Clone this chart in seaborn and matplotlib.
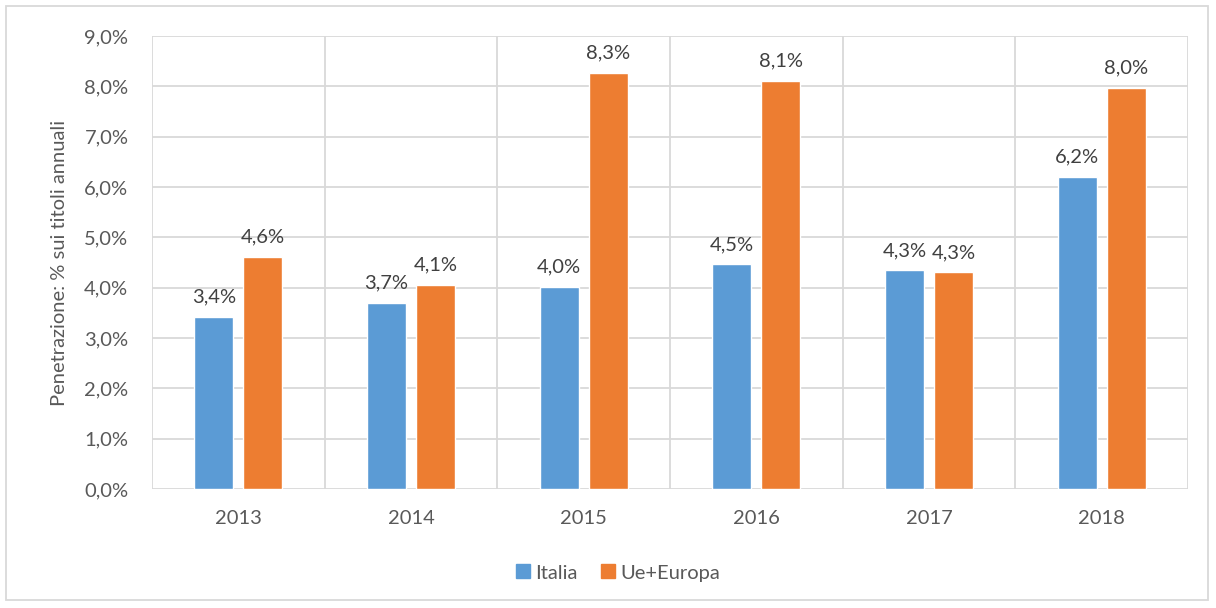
import matplotlib
matplotlib.use("Agg")
import matplotlib.pyplot as plt
import seaborn as sns
import pandas as pd
import numpy as np
from matplotlib.patches import Rectangle
from matplotlib.lines import Line2D

# dati
anni = ["2013", "2014", "2015", "2016", "2017", "2018"]
italia = [3.42, 3.70, 4.02, 4.47, 4.35, 6.20]
ue_europa = [4.61, 4.06, 8.27, 8.11, 4.31, 7.97]
etichette_italia = ["3,4%", "3,7%", "4,0%", "4,5%", "4,3%", "6,2%"]
etichette_ue = ["4,6%", "4,1%", "8,3%", "8,1%", "4,3%", "8,0%"]
serie = ["Italia", "Ue+Europa"]
colori = ["#5B9BD5", "#ED7D31"]

df = pd.DataFrame({
    "anno": anni * 2,
    "valore": italia + ue_europa,
    "serie": [serie[0]] * len(anni) + [serie[1]] * len(anni),
})

sns.set_theme(style="white")
plt.rcParams["font.family"] = ["Lato", "DejaVu Sans"]

GRID = "#D9D9D9"
TXT = "#595959"
FS = 14.5

fig = plt.figure(figsize=(12.16, 6.08), dpi=100)
ax = fig.add_axes([0.125, 0.1957, 0.852, 0.7451])

sns.barplot(data=df, x="anno", y="valore", hue="serie", palette=colori,
            width=0.567, gap=0.2, ax=ax, legend=False, saturation=1)

# etichette dati
for cont, labs in zip(ax.containers, [etichette_italia, etichette_ue]):
    for bar, lab in zip(cont, labs):
        ax.annotate(lab, (bar.get_x() + bar.get_width() / 2, bar.get_height()),
                    xytext=(0, 8), textcoords="offset points",
                    ha="center", va="bottom", fontsize=FS, color="#404040")

ax.set_ylim(0, 9)
ax.set_xlim(-0.5, len(anni) - 0.5)
ax.set_yticks(np.arange(0, 10, 1))
ax.set_yticklabels([f"{v:.1f}%".replace(".", ",") for v in np.arange(0, 10, 1)])
ax.set_xticks(range(len(anni)))
ax.set_xticks(np.arange(-0.5, len(anni), 1), minor=True)
ax.tick_params(axis="both", which="both", length=0, labelsize=FS, labelcolor=TXT)
ax.tick_params(axis="y", pad=17)
ax.tick_params(axis="x", pad=15)

ax.grid(axis="y", which="major", color=GRID, linewidth=1.3)
ax.grid(axis="x", which="minor", color=GRID, linewidth=1.3)
ax.grid(axis="x", which="major", visible=False)
ax.set_axisbelow(True)
for s in ax.spines.values():
    s.set_visible(False)

ax.set_xlabel("")
ax.set_ylabel("Penetrazione: % sui titoli annuali", fontsize=FS, color=TXT, labelpad=12)

handles = [Line2D([], [], marker="s", linestyle="none", markersize=10,
                  markerfacecolor=c, markeredgecolor=c) for c in colori]
fig.legend(handles, serie, loc="center", bbox_to_anchor=(0.507, 0.0576), ncol=2,
           frameon=False, fontsize=FS, labelcolor=TXT, handletextpad=0.1,
           columnspacing=1.0, handlelength=1.0)

# bordo esterno
fig.patches.append(Rectangle((6 / 1216, 8 / 608), 1202 / 1216, 594 / 608,
                             transform=fig.transFigure, fill=False,
                             edgecolor=GRID, linewidth=1.3))

fig.savefig("out.png", dpi=100, facecolor="white")
